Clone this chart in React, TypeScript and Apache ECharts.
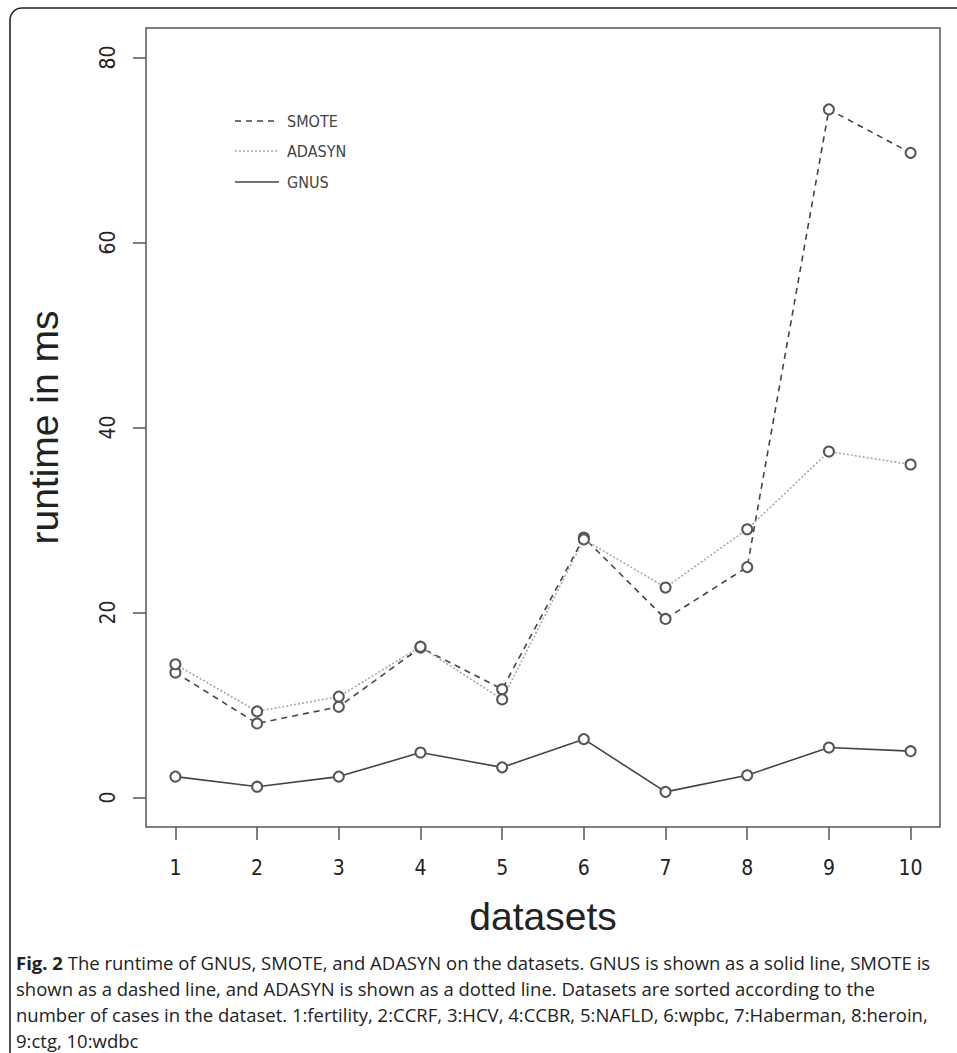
import React, { useEffect, useRef } from "react";
import * as echarts from "echarts";

const categories = [1, 2, 3, 4, 5, 6, 7, 8, 9, 10];
const smote = [13.5, 8.0, 9.8, 16.2, 11.7, 28.1, 19.3, 24.9, 74.4, 69.7];
const adasyn = [14.4, 9.3, 10.9, 16.3, 10.6, 27.9, 22.7, 29.0, 37.4, 36.0];
const gnus = [2.25, 1.16, 2.25, 4.85, 3.25, 6.3, 0.6, 2.4, 5.4, 5.0];
const yTicks = [0, 20, 40, 60, 80];
const legendNames = ["SMOTE", "ADASYN", "GNUS"];
const captionLines = [
  "The runtime of GNUS, SMOTE, and ADASYN on the datasets. GNUS is shown as a solid line, SMOTE is",
  "shown as a dashed line, and ADASYN is shown as a dotted line. Datasets are sorted according to the",
  "number of cases in the dataset. 1:fertility, 2:CCRF, 3:HCV, 4:CCBR, 5:NAFLD, 6:wpbc, 7:Haberman, 8:heroin,",
  "9:ctg, 10:wdbc",
];

const NARROW = "'Liberation Sans Narrow', 'DejaVu Sans Condensed', 'Liberation Sans', sans-serif";
const REG = "'Liberation Sans', Arial, sans-serif";
const CAP = "'Open Sans', 'Noto Sans', sans-serif";

export default function App() {
  const ref = useRef<HTMLDivElement>(null);
  useEffect(() => {
    if (!ref.current) return;
    const chart = echarts.init(ref.current, null, { renderer: "svg" });
    const pairs = (vals: number[]) => categories.map((c, i) => [c, vals[i]]);
    const styles = [
      { color: "#444", type: [6, 5] as any, width: 1.6 },
      { color: "#a8a8a8", type: [2, 2] as any, width: 1.6 },
      { color: "#444", type: "solid" as any, width: 1.6 },
    ];
    const legendY = [121, 151, 182];
    const graphics: any[] = [
      {
        type: "rect",
        shape: { x: 10, y: 8, width: 1000, height: 1100, r: 12 },
        style: { fill: "none", stroke: "#222", lineWidth: 1.6 },
        silent: true,
      },
    ];
    legendNames.forEach((n, i) => {
      graphics.push({
        type: "line",
        shape: { x1: 235, y1: legendY[i], x2: 279, y2: legendY[i] },
        style: { stroke: styles[i].color, lineWidth: 1.6, lineDash: styles[i].type === "solid" ? null : styles[i].type },
      });
      graphics.push({
        type: "text",
        x: 287,
        y: legendY[i],
        style: { text: n, font: `16px ${NARROW}`, fill: "#444", textVerticalAlign: "middle" },
      });
    });
    captionLines.forEach((t, i) => {
      graphics.push({
        type: "text",
        x: 16,
        y: 962 + i * 26,
        style: {
          text: i === 0 ? `{b|Fig. 2} ${t}` : t,
          font: `18.5px ${CAP}`,
          fill: "#222",
          textVerticalAlign: "middle",
          rich: { b: { fontWeight: "bold", fontFamily: CAP, fontSize: 18.5, fill: "#222" } },
        },
      });
    });

    chart.setOption({
      animation: false,
      backgroundColor: "#fff",
      grid: {
        left: 146,
        top: 28,
        right: 17,
        bottom: 226,
        show: true,
        borderColor: "#555",
        borderWidth: 1.5,
        containLabel: false,
      },
      xAxis: {
        type: "value",
        min: 0.64,
        max: 10.36,
        splitLine: { show: false },
        axisLine: { show: false, onZero: false },
        axisTick: { show: true, inside: false, length: 13, lineStyle: { color: "#555", width: 1.5 }, customValues: categories },
        axisLabel: { show: true, margin: 30, fontSize: 21, fontFamily: NARROW, color: "#222", customValues: categories },
        name: "datasets",
        nameLocation: "middle",
        nameGap: 70,
        nameTextStyle: { fontSize: 39, fontFamily: REG, color: "#222" },
      },
      yAxis: {
        type: "value",
        min: -3.2,
        max: 83.2,
        splitLine: { show: false },
        axisLine: { show: false, onZero: false },
        axisTick: { show: true, inside: false, length: 13, lineStyle: { color: "#555", width: 1.5 }, customValues: yTicks },
        axisLabel: {
          show: true,
          rotate: 90,
          margin: 28,
          align: "center",
          verticalAlign: "bottom",
          fontSize: 21,
          fontFamily: NARROW,
          color: "#222",
          customValues: yTicks,
        },
        name: "runtime in ms",
        nameLocation: "middle",
        nameGap: 82,
        nameTextStyle: { fontSize: 39, fontFamily: REG, color: "#222" },
      },
      graphic: graphics,
      series: [
        { name: "SMOTE", data: pairs(smote), lineStyle: styles[0] },
        { name: "ADASYN", data: pairs(adasyn), lineStyle: styles[1] },
        { name: "GNUS", data: pairs(gnus), lineStyle: styles[2] },
      ].map((s) => ({
        ...s,
        type: "line",
        symbol: "emptyCircle",
        symbolSize: 10,
        itemStyle: { color: "#555", borderWidth: 1.5 },
        z: 3,
      })),
    });
    return () => chart.dispose();
  }, []);
  return (
    <div
      ref={ref}
      style={{ position: "fixed", left: 0, top: 0, width: 957, height: 1053, background: "#fff" }}
    />
  );
}
